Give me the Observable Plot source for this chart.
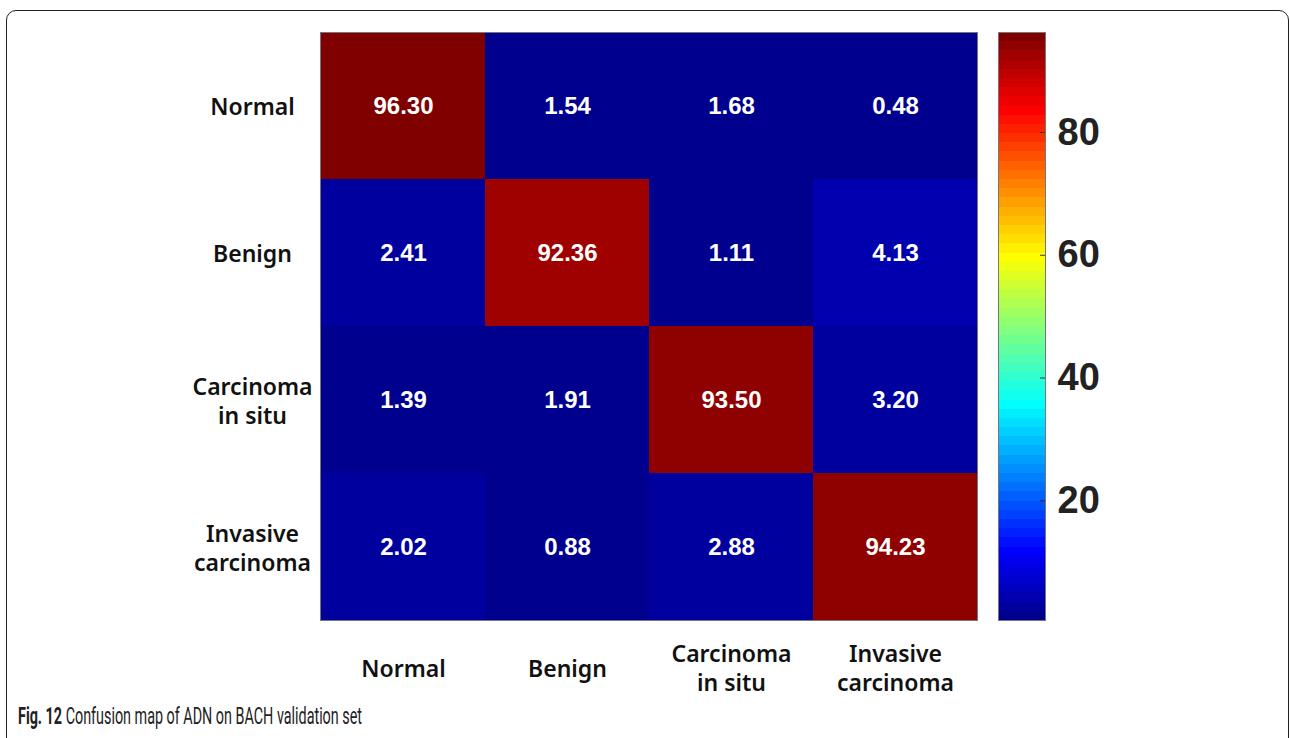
<!DOCTYPE html>
<html>
<head>
<meta charset="utf-8">
<script src="https://cdn.jsdelivr.net/npm/d3@7"></script>
<script src="https://cdn.jsdelivr.net/npm/@observablehq/plot@0.6"></script>
<style>
  html, body { margin: 0; padding: 0; background: #fff; }
  #page { position: relative; width: 1290px; height: 738px; overflow: hidden; }
  #border { position: absolute; left: 6px; top: 10px; width: 1283px; height: 780px;
            border: 1.5px solid #222; border-radius: 10px; box-sizing: border-box; }
  #main { position: absolute; left: 0; top: 0; }
  #cbar { position: absolute; left: 998px; top: 0; }
  #caption { position: absolute; left: 18px; top: 703px; font-family: Roboto, "Noto Sans", sans-serif;
             font-size: 23px; line-height: 1.2; color: #222; white-space: nowrap; transform-origin: 0 0; }
</style>
</head>
<body>
<div id="page">
  <div id="border"></div>
  <div id="main"></div>
  <div id="cbar"></div>
  <div id="caption"><b>Fig. 12</b> Confusion map of ADN on BACH validation set</div>
</div>
<script>
// ---- data ----
const classes = ["Normal", "Benign", "Carcinoma\nin situ", "Invasive\ncarcinoma"];
const rowNormal    = [96.30, 1.54, 1.68, 0.48];
const rowBenign    = [2.41, 92.36, 1.11, 4.13];
const rowInSitu    = [1.39, 1.91, 93.50, 3.20];
const rowInvasive  = [2.02, 0.88, 2.88, 94.23];
const rows = [rowNormal, rowBenign, rowInSitu, rowInvasive];
const colorbarTicks = [20, 40, 60, 80];

const data = [];
rows.forEach((row, i) => row.forEach((v, j) => data.push({actual: classes[i], pred: classes[j], value: v})));
const extent = d3.extent(data, d => d.value);

// MATLAB-style jet(64) colormap, quantized
function jet64(t) {
  const i = Math.max(0, Math.min(63, Math.floor(t * 64))) + 1;
  const u = k => k <= 16 ? k / 16 : k <= 31 ? 1 : (48 - k) / 16;
  const r = (i >= 25 && i <= 71) ? u(i - 24) : 0;
  const g = (i >= 9 && i <= 55) ? u(i - 8) : 0;
  const b = (i >= 1 && i <= 39) ? u(i + 8) : 0;
  return d3.rgb(r * 255, g * 255, b * 255).formatHex();
}
const colorScale = {type: "linear", domain: extent, interpolate: jet64};

const labelFont = {fontSize: 23, fontWeight: 600, fontFamily: "'Noto Sans', sans-serif", fill: "#111"};

const main = Plot.plot({
  width: 1290, height: 700,
  marginLeft: 320, marginRight: 313, marginTop: 32, marginBottom: 80,
  x: {domain: classes, padding: 0, label: null},
  y: {domain: classes, padding: 0, label: null},
  color: colorScale,
  style: {background: "transparent"},
  marks: [
    Plot.cell(data, {x: "pred", y: "actual", fill: "value", inset: 0}),
    Plot.text(data, {x: "pred", y: "actual", text: d => d.value.toFixed(2), fill: "white",
      fontSize: 24, fontWeight: "bold", fontFamily: "'Liberation Sans', Arial, sans-serif"}),
    Plot.frame({stroke: "#777"}),
    Plot.axisX({anchor: "bottom", tickSize: 0, tickPadding: 47, lineAnchor: "middle", lineHeight: 1.25, label: null, ...labelFont}),
    Plot.axisY({anchor: "left", tickSize: 0, tickPadding: 68, textAnchor: "middle", lineHeight: 1.25, label: null, ...labelFont})
  ]
});
document.getElementById("main").appendChild(main);

const levels = d3.range(64);
const step = (extent[1] - extent[0]) / 64;
const cbar = Plot.plot({
  width: 200, height: 700,
  marginLeft: 0, marginRight: 153, marginTop: 32, marginBottom: 80,
  y: {domain: extent, label: null},
  color: colorScale,
  style: {background: "transparent"},
  marks: [
    Plot.rect(levels, {y1: i => extent[0] + i * step, y2: i => extent[0] + Math.min(64, i + 1.1) * step,
      fill: i => extent[0] + (i + 0.5) * step, shapeRendering: "crispEdges"}),
    Plot.tickY(colorbarTicks, {y: d => d, insetLeft: 42, stroke: "#333"}),
    Plot.frame({stroke: "#777"}),
    Plot.axisY(colorbarTicks, {anchor: "right", tickSize: 0, tickPadding: 12, label: null,
      fontSize: 38, fontWeight: "bold", fontFamily: "'Liberation Sans', Arial, sans-serif", fill: "#222"})
  ]
});
document.getElementById("cbar").appendChild(cbar);

// fit caption to the reference width
const cap = document.getElementById("caption");
const w = cap.getBoundingClientRect().width;
cap.style.transform = `scaleX(${344 / w})`;
</script>
</body>
</html>
